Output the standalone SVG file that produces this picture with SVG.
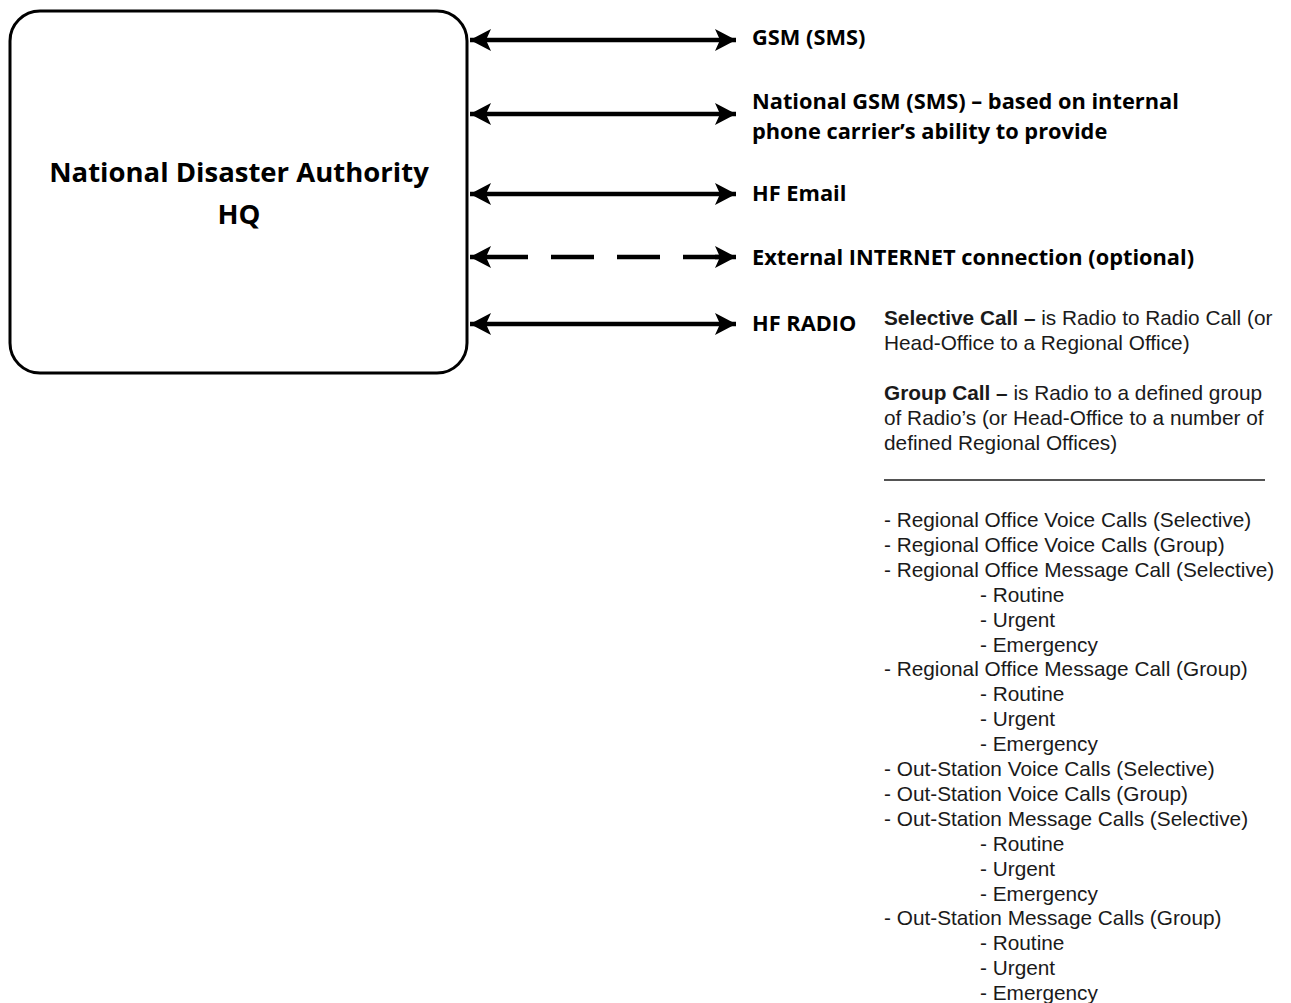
<svg xmlns="http://www.w3.org/2000/svg" width="1291" height="1003" viewBox="0 0 1291 1003">
<style>
.box{fill:#fff;stroke:#000;stroke-width:3}
.title{font-family:"Open Sans","Liberation Sans",sans-serif;font-weight:bold;font-size:27.5px;fill:#000;text-anchor:middle}
.lbl{font-family:"Open Sans","Liberation Sans",sans-serif;font-weight:bold;font-size:21.8px;fill:#000}
.txt{font-family:"Liberation Sans",Arial,sans-serif;font-size:20.8px;fill:#1a1a1a}
.b{font-weight:bold}
.con{stroke:#000;stroke-width:4.5;fill:none}
.dash{stroke-dasharray:43 23}
</style>
<defs>
<marker id="ah" markerUnits="userSpaceOnUse" markerWidth="24" markerHeight="24" refX="21" refY="11" orient="auto-start-reverse">
<path d="M0,0 L21,11 L0,22 L5,11 Z" fill="#000"/>
</marker>
</defs>
<rect width="1291" height="1003" fill="#fff"/>
<g id="hq">
<rect class="box" x="10" y="11" width="457" height="362" rx="30" ry="30"/>
<text class="title" x="239" y="182">National Disaster Authority</text>
<text class="title" x="239" y="224">HQ</text>
</g>
<g id="connectors">
<line class="con" x1="470" y1="40" x2="736" y2="40" marker-start="url(#ah)" marker-end="url(#ah)"/>
<line class="con" x1="470" y1="114" x2="736" y2="114" marker-start="url(#ah)" marker-end="url(#ah)"/>
<line class="con" x1="470" y1="194" x2="736" y2="194" marker-start="url(#ah)" marker-end="url(#ah)"/>
<line class="con dash" x1="485" y1="257" x2="720" y2="257"/>
<line class="con" x1="470" y1="257" x2="486" y2="257" marker-start="url(#ah)"/>
<line class="con" x1="715" y1="257" x2="736" y2="257" marker-end="url(#ah)"/>
<line class="con" x1="470" y1="324" x2="736" y2="324" marker-start="url(#ah)" marker-end="url(#ah)"/>
</g>
<g id="gsm"><text class="lbl" x="752" y="45">GSM (SMS)</text></g>
<g id="national-gsm">
<text class="lbl" x="752" y="109">National GSM (SMS) – based on internal</text>
<text class="lbl" x="752" y="139">phone carrier’s ability to provide</text>
</g>
<g id="hf-email"><text class="lbl" x="752" y="201">HF Email</text></g>
<g id="internet"><text class="lbl" x="752" y="265">External INTERNET connection (optional)</text></g>
<g id="hf-radio">
<text class="lbl" x="752" y="331">HF RADIO</text>
<text class="txt" x="884" y="325"><tspan class="b">Selective Call –</tspan> is Radio to Radio Call (or</text>
<text class="txt" x="884" y="350">Head-Office to a Regional Office)</text>
<text class="txt" x="884" y="400"><tspan class="b">Group Call –</tspan> is Radio to a defined group</text>
<text class="txt" x="884" y="425">of Radio’s (or Head-Office to a number of</text>
<text class="txt" x="884" y="450">defined Regional Offices)</text>
<line x1="884" y1="480" x2="1265" y2="480" stroke="#1a1a1a" stroke-width="1.3"/>
<text class="txt" x="884" y="527">- Regional Office Voice Calls (Selective)</text>
<text class="txt" x="884" y="551.9">- Regional Office Voice Calls (Group)</text>
<text class="txt" x="884" y="576.8">- Regional Office Message Call (Selective)</text>
<text class="txt" x="980" y="601.7">- Routine</text>
<text class="txt" x="980" y="626.6">- Urgent</text>
<text class="txt" x="980" y="651.5">- Emergency</text>
<text class="txt" x="884" y="676.4">- Regional Office Message Call (Group)</text>
<text class="txt" x="980" y="701.3">- Routine</text>
<text class="txt" x="980" y="726.2">- Urgent</text>
<text class="txt" x="980" y="751.1">- Emergency</text>
<text class="txt" x="884" y="776">- Out-Station Voice Calls (Selective)</text>
<text class="txt" x="884" y="800.9">- Out-Station Voice Calls (Group)</text>
<text class="txt" x="884" y="825.8">- Out-Station Message Calls (Selective)</text>
<text class="txt" x="980" y="850.7">- Routine</text>
<text class="txt" x="980" y="875.6">- Urgent</text>
<text class="txt" x="980" y="900.5">- Emergency</text>
<text class="txt" x="884" y="925.4">- Out-Station Message Calls (Group)</text>
<text class="txt" x="980" y="950.3">- Routine</text>
<text class="txt" x="980" y="975.2">- Urgent</text>
<text class="txt" x="980" y="1000">- Emergency</text>
</g>
</svg>
